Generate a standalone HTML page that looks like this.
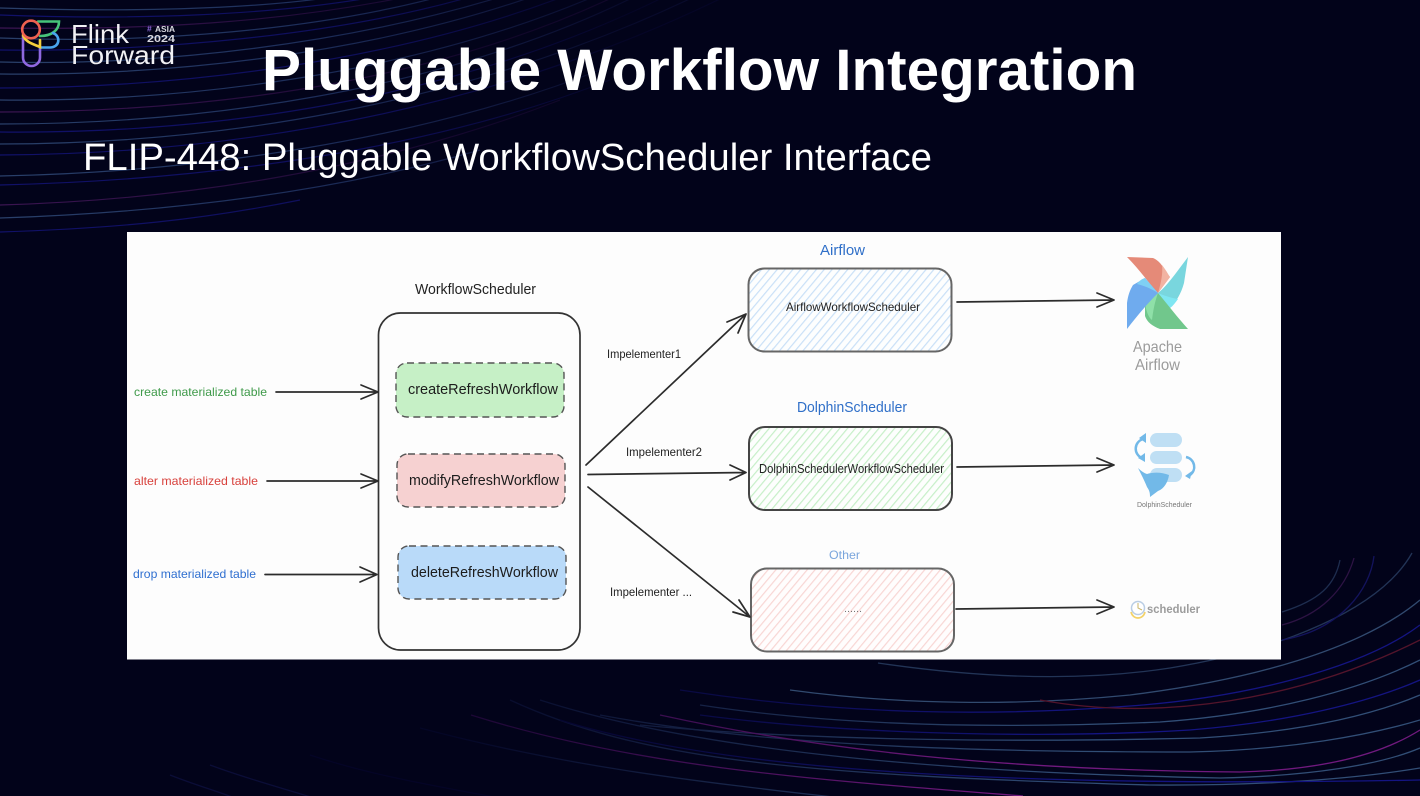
<!DOCTYPE html>
<html><head><meta charset="utf-8"><style>
html,body{margin:0;padding:0;background:#02031a}
svg{display:block}
</style></head><body>
<svg width="1420" height="796" viewBox="0 0 1420 796" xmlns="http://www.w3.org/2000/svg" font-family="'Liberation Sans',sans-serif">
<defs>
<linearGradient id="fb" gradientUnits="userSpaceOnUse" x1="0" y1="0" x2="620" y2="0"><stop offset="0" stop-color="#34507f"/><stop offset=".5" stop-color="#24386a"/><stop offset="1" stop-color="#0a0c30"/></linearGradient>
<linearGradient id="fd" gradientUnits="userSpaceOnUse" x1="0" y1="0" x2="620" y2="0"><stop offset="0" stop-color="#15157e"/><stop offset=".6" stop-color="#12126a"/><stop offset="1" stop-color="#06062a"/></linearGradient>
<linearGradient id="fp" gradientUnits="userSpaceOnUse" x1="0" y1="0" x2="500" y2="0"><stop offset="0" stop-color="#4a1a60"/><stop offset="1" stop-color="#15082f"/></linearGradient>
<linearGradient id="bb" gradientUnits="userSpaceOnUse" x1="450" y1="0" x2="1100" y2="0"><stop offset="0" stop-color="#05072a"/><stop offset="1" stop-color="#3f6390"/></linearGradient>
<linearGradient id="bd" gradientUnits="userSpaceOnUse" x1="500" y1="0" x2="1100" y2="0"><stop offset="0" stop-color="#05052a"/><stop offset="1" stop-color="#1a1aa0"/></linearGradient>
<linearGradient id="bm" gradientUnits="userSpaceOnUse" x1="450" y1="0" x2="1000" y2="0"><stop offset="0" stop-color="#20083a"/><stop offset="1" stop-color="#90209a"/></linearGradient>
<pattern id="hb" width="6" height="6" patternUnits="userSpaceOnUse" patternTransform="rotate(-50)"><rect width="6" height="6" fill="#fdfefe"/><rect width="6" height="1.2" fill="#c9e0f7"/></pattern>
<pattern id="hg" width="6" height="6" patternUnits="userSpaceOnUse" patternTransform="rotate(-50)"><rect width="6" height="6" fill="#fdfefd"/><rect width="6" height="1.2" fill="#c6efc8"/></pattern>
<pattern id="hr" width="6" height="6" patternUnits="userSpaceOnUse" patternTransform="rotate(-50)"><rect width="6" height="6" fill="#fffdfd"/><rect width="6" height="1.2" fill="#f8d6d4"/></pattern>
</defs>
<rect width="1420" height="796" fill="#02031a"/>

<!-- background streaks, top-left -->
<g fill="none" stroke-width="1.2" opacity=".8">
<path stroke="url(#fb)" d="M0 8C120 12 250 10 340 -4"/>
<path stroke="url(#fd)" d="M0 15C130 20 270 16 380 -4"/>
<path stroke="url(#fp)" d="M0 28C140 30 280 24 420 -6"/>
<path stroke="url(#fb)" d="M0 38C150 44 320 30 450 -6"/>
<path stroke="url(#fd)" d="M0 50C150 52 340 36 480 -6"/>
<path stroke="url(#fb)" d="M0 62C160 66 350 44 510 -6"/>
<path stroke="url(#fb)" d="M0 74C170 76 370 54 540 -6"/>
<path stroke="url(#fd)" d="M0 88C170 88 390 64 570 -6"/>
<path stroke="url(#fb)" d="M0 100C180 102 410 76 600 -6"/>
<path stroke="url(#fp)" d="M0 112C180 112 420 90 620 -6"/>
<path stroke="url(#fb)" d="M0 124C190 124 440 94 640 -6"/>
<path stroke="url(#fd)" d="M0 132C200 134 450 104 670 -6"/>
<path stroke="url(#fb)" d="M0 144C200 144 460 110 700 -6"/>
<path stroke="url(#fd)" d="M0 155C210 154 480 118 730 -6"/>
<path stroke="url(#fb)" d="M0 176C200 172 420 140 600 70"/>
<path stroke="url(#fd)" d="M0 185C210 180 430 150 610 80"/>
<path stroke="url(#fp)" d="M0 205C180 200 380 170 560 100"/>
<path stroke="url(#fb)" d="M0 218C180 212 340 190 480 150"/>
<path stroke="url(#fd)" d="M0 232C120 228 200 220 300 200"/>
</g>

<!-- background streaks, bottom-right -->
<g fill="none" stroke-width="1.3" opacity=".78">
<path stroke="#2c4268" d="M878 663C980 678 1080 682 1170 668C1280 650 1380 610 1412 553"/>
<path stroke="#26395e" d="M1282 612C1320 600 1335 585 1340 560"/>
<path stroke="#3a1850" d="M1282 625C1320 615 1345 590 1354 558"/>
<path stroke="#181870" d="M1282 640C1340 630 1370 590 1374 556"/>
<path stroke="#3f5e88" d="M790 690C900 705 1020 706 1130 695C1250 680 1360 650 1420 600"/>
<path stroke="url(#bd)" d="M680 690C850 716 1000 716 1130 706C1240 698 1360 670 1420 625"/>
<path stroke="#6a1a30" d="M1040 700C1160 722 1300 700 1420 640"/>
<path stroke="url(#bb)" d="M700 705C850 728 1020 728 1160 722C1270 714 1360 690 1420 660"/>
<path stroke="url(#bd)" d="M700 715C860 736 1060 738 1190 730C1290 722 1370 702 1420 680"/>
<path stroke="url(#bb)" d="M640 725C820 742 1040 742 1200 738C1300 732 1370 716 1420 695"/>
<path stroke="url(#bb)" d="M600 715C760 745 960 752 1190 752C1290 750 1370 735 1420 720"/>
<path stroke="url(#bm)" d="M660 715C820 750 1000 770 1240 772C1320 770 1380 755 1420 730"/>
<path stroke="url(#bb)" d="M540 700C680 745 900 772 1220 778C1310 776 1380 765 1420 748"/>
<path stroke="url(#bm)" d="M471 715C640 768 820 780 1023 796"/>
<path stroke="url(#bb)" d="M420 728C560 765 680 780 860 800"/>
<path stroke="url(#bb)" d="M510 700C640 760 800 775 1150 785C1270 786 1360 778 1420 768"/>
<path stroke="url(#bd)" d="M560 720C720 770 1000 788 1420 780"/>
<path stroke="url(#bd)" d="M310 755C370 775 430 785 510 800"/>
<path stroke="#0e1140" d="M210 765C250 780 290 790 320 800"/>
<path stroke="#0e1140" d="M170 775C195 785 220 792 240 800"/>
</g>

<!-- logo -->
<g fill="none" stroke-width="2.6" stroke-linecap="round">
<path d="M23 36V57.500a8.500 8.500 0 0 0 17 0V47" stroke="#8f68e0"/>
<path d="M38 21.500H59C59 30 52 36 40 36" stroke="#46c47a"/>
<path d="M53 33C61 36 60 47.500 50 47.500H40" stroke="#4aa5ee"/>
<path d="M23 35C25 42 33 44 40 47V40" stroke="#f4cf3c"/>
<circle cx="31" cy="29.500" r="8.800" stroke="#ef6150"/>
</g>
<g fill="#f1f1f4">
<text x="71" y="43" font-size="26" textLength="58" lengthAdjust="spacingAndGlyphs">Flink</text>
<text x="71" y="64" font-size="26" textLength="104" lengthAdjust="spacingAndGlyphs">Forward</text>
<text x="155" y="32" font-size="8.500" font-weight="bold" textLength="20" lengthAdjust="spacingAndGlyphs" fill="#d8d8e0">ASIA</text>
<text x="147" y="31.500" font-size="8.500" font-weight="bold" fill="#8a68d8">#</text>
<text x="147" y="42" font-size="10.500" font-weight="bold" textLength="28" lengthAdjust="spacingAndGlyphs" fill="#d8d8e0">2024</text>
</g>

<!-- titles -->
<text x="262" y="90" font-family="'Liberation Sans','Noto Sans CJK SC',sans-serif" font-size="58" font-weight="bold" fill="#fff" textLength="875" lengthAdjust="spacingAndGlyphs">Pluggable Workflow Integration</text>
<text x="83" y="170" font-family="'Liberation Sans','Noto Sans CJK SC',sans-serif" font-size="38" fill="#fff" textLength="849" lengthAdjust="spacingAndGlyphs">FLIP-448: Pluggable WorkflowScheduler Interface</text>

<!-- diagram panel -->
<rect x="127" y="232" width="1154" height="427.500" fill="#fdfdfd"/>

<rect x="378.500" y="313" width="201.500" height="337" rx="22" fill="#fdfdfd" stroke="#333" stroke-width="1.700"/>
<g stroke="#555" stroke-width="1.400" stroke-dasharray="7 4.500">
<rect x="396" y="363" width="168" height="54" rx="11" fill="#c6f0c6"/>
<rect x="397" y="454" width="168" height="53" rx="11" fill="#f6d1d1"/>
<rect x="398" y="546" width="168" height="53" rx="11" fill="#b9daf9"/>
</g>
<g stroke="#666" stroke-width="2">
<rect x="748.500" y="268.500" width="203" height="83" rx="16" fill="url(#hb)"/>
<rect x="749" y="427" width="203" height="83" rx="16" fill="url(#hg)" stroke="#444"/>
<rect x="751" y="568.500" width="203" height="83" rx="16" fill="url(#hr)"/>
</g>

<!-- connectors -->
<g fill="none" stroke="#2c2c2c" stroke-width="1.700" stroke-linecap="round" stroke-linejoin="round">
<path d="M276 392H378M361 385L378 392L361 399"/>
<path d="M267 481H378M361 474L378 481L361 488"/>
<path d="M265 574.500H377M360 567L377 574.500L360 582"/>
<path d="M586 465L746 314M727 322L746 314L738 333"/>
<path d="M588 474.500L746 472.500M730 465L746 472.500L730 480"/>
<path d="M588 487L750 617M739 600L750 617L733 612"/>
<path d="M957 302L1114 300M1097 293L1114 300L1097 307"/>
<path d="M957 467L1114 465M1097 458L1114 465L1097 472"/>
<path d="M956 609L1114 607M1097 600L1114 607L1097 614"/>
</g>

<!-- labels -->
<g font-size="12">
<text x="134" y="396" fill="#3f9a4a" textLength="133" lengthAdjust="spacingAndGlyphs">create materialized table</text>
<text x="134" y="485" fill="#d8413c" textLength="124" lengthAdjust="spacingAndGlyphs">alter materialized table</text>
<text x="133" y="578" fill="#2f6fd0" textLength="123" lengthAdjust="spacingAndGlyphs">drop materialized table</text>
<text x="607" y="358" fill="#222" textLength="74" lengthAdjust="spacingAndGlyphs">Impelementer1</text>
<text x="626" y="456" fill="#222" textLength="76" lengthAdjust="spacingAndGlyphs">Impelementer2</text>
<text x="610" y="596" fill="#222" textLength="82" lengthAdjust="spacingAndGlyphs">Impelementer ...</text>
<text x="786" y="311" fill="#222" textLength="134" lengthAdjust="spacingAndGlyphs">AirflowWorkflowScheduler</text>
<text x="759" y="473" fill="#222" font-size="13" textLength="185" lengthAdjust="spacingAndGlyphs">DolphinSchedulerWorkflowScheduler</text>
<text x="844" y="612" fill="#777" font-size="10" textLength="18" lengthAdjust="spacingAndGlyphs">......</text>
<text x="829" y="559" fill="#7aa5dc" textLength="31" lengthAdjust="spacingAndGlyphs">Other</text>
</g>
<g font-size="15">
<text x="415" y="294" fill="#222" textLength="121" lengthAdjust="spacingAndGlyphs">WorkflowScheduler</text>
<text x="408" y="394" fill="#1c1c1c" textLength="150" lengthAdjust="spacingAndGlyphs">createRefreshWorkflow</text>
<text x="409" y="485" fill="#1c1c1c" textLength="150" lengthAdjust="spacingAndGlyphs">modifyRefreshWorkflow</text>
<text x="411" y="577" fill="#1c1c1c" textLength="147" lengthAdjust="spacingAndGlyphs">deleteRefreshWorkflow</text>
<text x="820" y="255" fill="#2f6fc8" textLength="45" lengthAdjust="spacingAndGlyphs">Airflow</text>
<text x="797" y="412" fill="#2f6fc8" textLength="110" lengthAdjust="spacingAndGlyphs">DolphinScheduler</text>
</g>

<!-- Airflow logo -->
<path d="M1127 257L1153 258C1162 262 1164 270 1170 277L1158 293C1150 285 1140 270 1127 257Z" fill="#e58a78"/>
<path d="M1162 265C1166 270 1168 274 1170 277L1158 293C1161 283 1163 274 1162 265Z" fill="#f2b3a2"/>
<path d="M1188 257L1184 283C1181 294 1176 302 1170 308L1158 293C1168 285 1178 270 1188 257Z" fill="#79d6de"/>
<path d="M1178 299C1175 303 1173 306 1170 308L1158 293C1165 296 1172 298 1178 299Z" fill="#7fe6f2"/>
<path d="M1188 329L1160 329C1152 326 1147 322 1145 316V303L1158 293C1168 305 1178 318 1188 329Z" fill="#71c78c"/>
<path d="M1152 320C1148 317 1146 310 1145 303L1158 293C1155 301 1153 311 1152 320Z" fill="#8fe0a8"/>
<path d="M1127 329L1127 303C1128 295 1130 290 1133 285L1145 278L1158 293C1148 303 1137 316 1127 329Z" fill="#6fabee"/>
<path d="M1137 284C1140 280 1142 279 1145 278L1158 293C1152 289 1145 286 1137 284Z" fill="#7fd0f4"/>
<text x="1133" y="352" font-size="16" fill="#9b9b9b" textLength="49" lengthAdjust="spacingAndGlyphs">Apache</text>
<text x="1135" y="370" font-size="16" fill="#9b9b9b" textLength="45" lengthAdjust="spacingAndGlyphs">Airflow</text>

<!-- DolphinScheduler logo -->
<g fill="#bfdff4">
<rect x="1150" y="433" width="32" height="14" rx="7"/>
<rect x="1150" y="451" width="32" height="13" rx="6.500"/>
<rect x="1150" y="468" width="32" height="14" rx="7"/>
</g>
<path d="M1138 468C1141 471 1144 473 1147 474C1153 472 1162 472 1169 475C1168 482 1164 489 1158 491L1150 497C1150 492 1149 490 1147 487C1145 482 1143 478 1142 476Z" fill="#72b9e8"/>
<g fill="none" stroke="#72b9e8" stroke-width="2.500">
<path d="M1143 439C1134 442 1133 454 1142 458"/>
<path d="M1186 457C1195 459 1197 470 1190 475"/>
</g>
<path d="M1139 438L1146 433V443Z M1145 453V462L1138 458Z M1192 471L1190 479L1185 476Z" fill="#72b9e8"/>
<text x="1137" y="507" font-size="7.500" fill="#777" textLength="55" lengthAdjust="spacingAndGlyphs">DolphinScheduler</text>

<!-- scheduler logo -->
<circle cx="1138" cy="608" r="6.500" fill="#fff" stroke="#b9cde4" stroke-width="1.500"/>
<path d="M1131 612C1133 620 1143 620 1145 612" fill="none" stroke="#f3d268" stroke-width="1.700"/>
<path d="M1138 603V608L1142 610" fill="none" stroke="#c9b56a" stroke-width="1"/>
<text x="1147" y="613" font-size="12" font-weight="bold" fill="#9c9c9c" textLength="53" lengthAdjust="spacingAndGlyphs">scheduler</text>
</svg>
</body></html>
